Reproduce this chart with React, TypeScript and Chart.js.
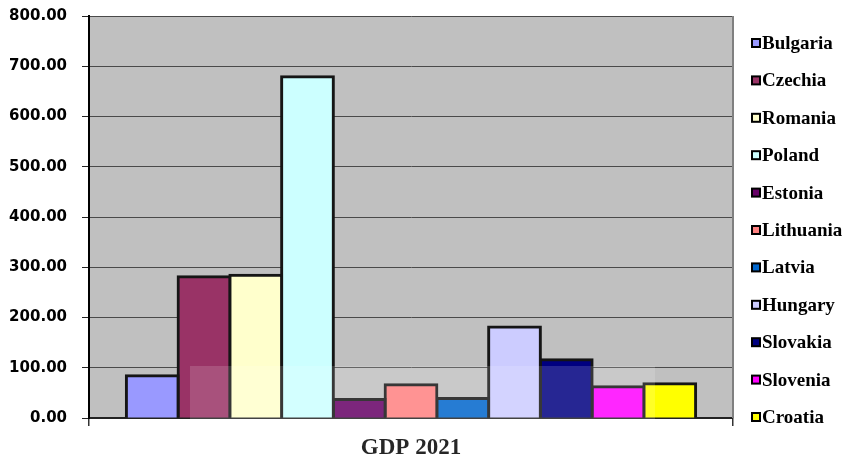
import { useEffect, useRef } from "react";
import { Chart, registerables } from "chart.js";

Chart.register(...registerables);

// Single category, one bar per country
const categories = ["GDP 2021"];
const countries = [
  "Bulgaria",
  "Czechia",
  "Romania",
  "Poland",
  "Estonia",
  "Lithuania",
  "Latvia",
  "Hungary",
  "Slovakia",
  "Slovenia",
  "Croatia",
];
const gdp2021 = [84, 281, 284, 679, 37, 66, 39, 181, 116, 62, 68];
const barColors = [
  "#9999FF",
  "#993366",
  "#FFFFCC",
  "#CCFFFF",
  "#660066",
  "#FF8080",
  "#0066CC",
  "#CCCCFF",
  "#000080",
  "#FF00FF",
  "#FFFF00",
];
const yMin = 0;
const yMax = 800;
const yStep = 100;

const W = 846;
const H = 457;

// Grey plot background behind grid and bars
const plotBackground = {
  id: "plotBackground",
  beforeDraw(chart: any) {
    const { ctx, chartArea } = chart;
    ctx.save();
    ctx.fillStyle = "#C0C0C0";
    ctx.fillRect(chartArea.left, chartArea.top, chartArea.right - chartArea.left, chartArea.bottom - chartArea.top);
    ctx.restore();
  },
};

// Right edge of the plot frame
const plotFrame = {
  id: "plotFrame",
  afterDraw(chart: any) {
    const { ctx, chartArea } = chart;
    ctx.save();
    ctx.strokeStyle = "#808080";
    ctx.lineWidth = 2;
    ctx.beginPath();
    ctx.moveTo(chartArea.right, chartArea.top);
    ctx.lineTo(chartArea.right, chartArea.bottom);
    ctx.stroke();
    ctx.restore();
  },
};

// Faint light band over the lower middle of the chart
const lightBand = {
  id: "lightBand",
  afterDraw(chart: any) {
    const { ctx } = chart;
    ctx.save();
    ctx.fillStyle = "rgba(255,255,255,0.15)";
    ctx.fillRect(190, 366, 465, 91);
    ctx.restore();
  },
};

// Vertical legend on the right: square swatch + bold serif name
const sideLegend = {
  id: "sideLegend",
  afterDraw(chart: any) {
    const { ctx, chartArea } = chart;
    const firstY = chartArea.top + 27;
    const step = 37.4;
    const boxX = chartArea.right + 18;
    ctx.save();
    ctx.font = "bold 19px 'Liberation Serif', 'Times New Roman', serif";
    ctx.textBaseline = "alphabetic";
    ctx.textAlign = "left";
    chart.data.datasets.forEach((ds: any, i: number) => {
      const cy = firstY + i * step;
      ctx.fillStyle = "#000";
      ctx.fillRect(boxX, cy - 5, 10, 10);
      ctx.fillStyle = ds.backgroundColor;
      ctx.fillRect(boxX + 2, cy - 3, 6, 6);
      ctx.fillStyle = "#000";
      ctx.fillText(ds.label, boxX + 11, cy + 6);
    });
    ctx.restore();
  },
};

export default function App() {
  const canvasRef = useRef<HTMLCanvasElement | null>(null);

  useEffect(() => {
    document.body.style.margin = "0";
    const canvas = canvasRef.current;
    if (!canvas) return;

    const chart = new Chart(canvas, {
      type: "bar",
      data: {
        labels: categories,
        datasets: countries.map((name, i) => ({
          label: name,
          data: [gdp2021[i]],
          backgroundColor: barColors[i],
          borderColor: "#151515",
          borderWidth: 3,
          inflateAmount: 1.5,
          categoryPercentage: 0.884,
          barPercentage: 1,
        })),
      },
      options: {
        responsive: false,
        animation: false,
        layout: { padding: { top: 16, right: W - 733, left: 0, bottom: 0 } },
        plugins: {
          legend: { display: false },
          tooltip: { enabled: false },
        },
        scales: {
          x: {
            offset: true,
            grid: {
              offset: true,
              drawOnChartArea: false,
              drawTicks: true,
              tickLength: 8,
              color: "#333",
              lineWidth: 1.5,
            },
            border: { display: true, color: "#222", width: 2 },
            ticks: {
              color: "#000",
              font: { family: "'Liberation Serif', 'Times New Roman', serif", size: 23, weight: "bold" },
              padding: 8,
            },
            afterFit: (scale: any) => {
              scale.height = H - 418;
            },
          },
          y: {
            min: yMin,
            max: yMax,
            ticks: {
              stepSize: yStep,
              color: "#000",
              font: { family: "'DejaVu Sans', Verdana, sans-serif", size: 15, weight: "bold" },
              padding: 15,
              callback: (v: any) => Number(v).toFixed(2),
            },
            grid: {
              color: "#4a4a4a",
              lineWidth: 1,
              tickLength: 7,
              tickColor: "#222",
            },
            border: { display: true, color: "#000", width: 2 },
            afterFit: (scale: any) => {
              scale.width = 89;
              scale.paddingTop = 0;
              scale.paddingBottom = 0;
            },
          },
        },
      } as any,
      plugins: [plotBackground, plotFrame, sideLegend, lightBand],
    });

    return () => chart.destroy();
  }, []);

  return (
    <div style={{ width: W, height: H, background: "#fff" }}>
      <canvas ref={canvasRef} width={W} height={H} style={{ display: "block" }} />
    </div>
  );
}
